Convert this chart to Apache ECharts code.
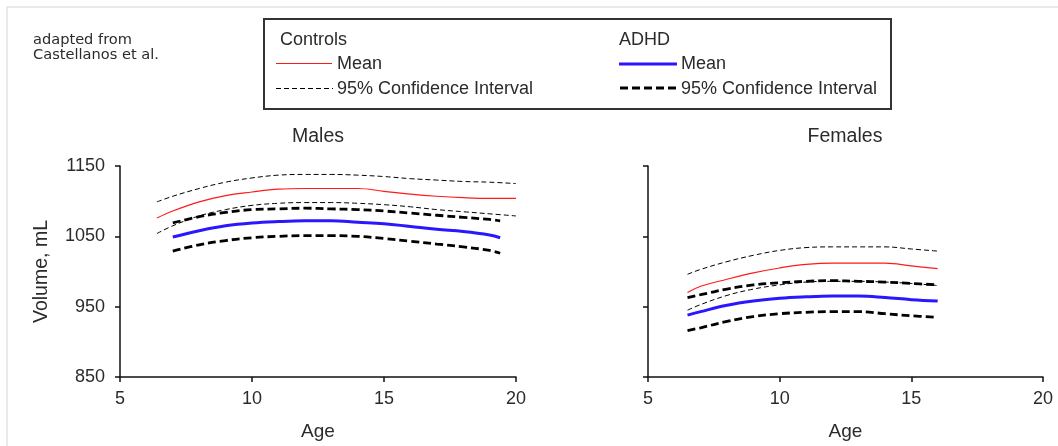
<!DOCTYPE html>
<html>
<head>
<meta charset="utf-8">
<script src="https://cdn.jsdelivr.net/npm/echarts@6/dist/echarts.min.js"></script>
<style>
  html, body { margin: 0; background: #fff; }
  #chart { width: 1058px; height: 446px; }
</style>
</head>
<body>
<div id="chart"></div>
<script>
/* Brain volume by age, Controls vs ADHD (adapted from Castellanos et al.) */

// Males
const maleCtrlAges  = [6.4, 7, 8, 9, 10, 11, 12, 13, 14, 15, 16, 17, 18, 19, 20];
const maleCtrlMean  = [1076, 1086, 1099, 1108, 1113, 1117, 1118, 1118, 1118, 1114, 1110, 1107, 1105, 1104, 1104];
const maleCtrlUpper = [1099, 1107, 1118, 1127, 1133, 1137, 1138, 1138, 1137, 1135, 1132, 1130, 1128, 1127, 1125];
const maleCtrlLower = [1054, 1065, 1079, 1088, 1094, 1097, 1098, 1098, 1097, 1095, 1092, 1088, 1085, 1082, 1079];

const maleAdhdAges  = [7, 8, 9, 10, 11, 12, 13, 14, 15, 16, 17, 18, 19, 19.4];
const maleAdhdMean  = [1049, 1058, 1065, 1069, 1071, 1072, 1072, 1070, 1068, 1064, 1060, 1057, 1052, 1048];
const maleAdhdUpper = [1069, 1078, 1084, 1088, 1089, 1090, 1089, 1088, 1086, 1083, 1080, 1077, 1074, 1072];
const maleAdhdLower = [1029, 1038, 1044, 1048, 1050, 1051, 1051, 1050, 1047, 1043, 1039, 1035, 1030, 1026];

// Females
const femAges      = [6.5, 7, 8, 9, 10, 11, 12, 13, 14, 15, 16];
const femCtrlMean  = [970, 979, 989, 998, 1005, 1010, 1012, 1012, 1012, 1008, 1004];
const femCtrlUpper = [996, 1003, 1014, 1023, 1030, 1034, 1035, 1035, 1035, 1032, 1029];
const femCtrlLower = [945, 953, 966, 975, 981, 985, 986, 986, 985, 983, 980];
const femAdhdMean  = [938, 943, 952, 958, 962, 964, 965, 965, 963, 960, 958];
const femAdhdUpper = [963, 967, 975, 981, 984, 986, 987, 986, 985, 983, 981];
const femAdhdLower = [916, 920, 929, 936, 940, 942, 943, 943, 940, 937, 935];

const xTicks = [5, 10, 15, 20];
const yTicks = [850, 950, 1050, 1150];
const panelTitles = ['Males', 'Females'];

const FONT = '"Liberation Sans", Arial, sans-serif';
const INK = '#2b2b2b';

const ST = {
  ctrlMean: { color: '#ff1a1a', width: 1.2 },
  ctrlCI:   { color: '#000', width: 1, type: [5, 3] },
  adhdMean: { color: '#2a16ff', width: 3 },
  adhdCI:   { color: '#000', width: 2.8, type: [8, 4] },
};

const pairs = (ages, vals) => ages.map((a, i) => [a, vals[i]]);
function line(gi, ages, vals, style) {
  return { type: 'line', xAxisIndex: gi, yAxisIndex: gi, data: pairs(ages, vals),
    showSymbol: false, smooth: 0.4, silent: true, lineStyle: style };
}

const grids = [
  { left: 120, top: 166, width: 396, height: 211 },
  { left: 648, top: 166, width: 395, height: 211 },
];

const axisLine = { onZero: false, lineStyle: { color: '#111', width: 1.5 } };
const axisTick = { length: 5, lineStyle: { color: '#111', width: 1.5 } };

function xAxis(gi) {
  return { type: 'value', gridIndex: gi, min: xTicks[0], max: xTicks[xTicks.length - 1], interval: 5,
    axisLine, axisTick, splitLine: { show: false },
    axisLabel: { fontSize: 18, color: INK, margin: 13, fontFamily: FONT },
    name: 'Age', nameLocation: 'middle', nameGap: 45,
    nameTextStyle: { fontSize: 19, color: INK, fontFamily: FONT } };
}
function yAxis(gi) {
  return { type: 'value', gridIndex: gi, min: yTicks[0], max: yTicks[yTicks.length - 1], interval: 100,
    axisLine: Object.assign({ show: true }, axisLine), axisTick: Object.assign({ show: true }, axisTick),
    splitLine: { show: false },
    axisLabel: { show: gi === 0, fontSize: 18, color: INK, margin: 15, fontFamily: FONT, formatter: v => String(v) },
    name: gi === 0 ? 'Volume, mL' : '', nameLocation: 'middle', nameGap: 68, nameRotate: 90,
    nameTextStyle: { fontSize: 19.5, color: INK, fontFamily: FONT } };
}

function txt(x, y, s, size, align, family) {
  return { type: 'text', x, y, silent: true,
    style: { text: s, font: size + 'px ' + (family || FONT), fill: INK,
      align: align || 'left', verticalAlign: 'middle', textAlign: align || 'left', textVerticalAlign: 'middle' } };
}
function seg(x1, x2, y, st) {
  return { type: 'line', silent: true, shape: { x1, y1: y, x2, y2: y },
    style: { stroke: st.color, lineWidth: st.width, lineDash: st.type || null } };
}

const graphic = [
  { type: 'rect', silent: true, shape: { x: 7, y: 7, width: 1100, height: 500 }, style: { fill: 'none', stroke: '#e2e2e2', lineWidth: 1.5 } },
  txt(33, 40, 'adapted from', 14.6, 'left', '"DejaVu Sans", sans-serif'),
  txt(33, 55, 'Castellanos et al.', 14.6, 'left', '"DejaVu Sans", sans-serif'),
  { type: 'rect', silent: true, shape: { x: 264, y: 19, width: 627, height: 90 }, style: { fill: '#fff', stroke: '#333', lineWidth: 2 } },
  txt(280, 40, 'Controls', 18),
  seg(276, 332, 63.5, ST.ctrlMean), txt(337, 64, 'Mean', 18),
  seg(276, 333, 88.5, ST.ctrlCI), txt(337, 89, '95% Confidence Interval', 18),
  txt(619, 40, 'ADHD', 18),
  seg(619, 677, 64, ST.adhdMean), txt(681, 64, 'Mean', 18),
  seg(620, 678, 88, ST.adhdCI), txt(681, 89, '95% Confidence Interval', 18),
  txt(318, 137, panelTitles[0], 19.5, 'center'),
  txt(845, 137, panelTitles[1], 19.5, 'center'),
];

const chart = echarts.init(document.getElementById('chart'));
chart.setOption({
  animation: false,
  backgroundColor: '#fff',
  grid: grids,
  xAxis: [xAxis(0), xAxis(1)],
  yAxis: [yAxis(0), yAxis(1)],
  graphic,
  series: [
    line(0, maleCtrlAges, maleCtrlUpper, ST.ctrlCI),
    line(0, maleCtrlAges, maleCtrlLower, ST.ctrlCI),
    line(0, maleCtrlAges, maleCtrlMean, ST.ctrlMean),
    line(0, maleAdhdAges, maleAdhdUpper, ST.adhdCI),
    line(0, maleAdhdAges, maleAdhdLower, ST.adhdCI),
    line(0, maleAdhdAges, maleAdhdMean, ST.adhdMean),
    line(1, femAges, femCtrlUpper, ST.ctrlCI),
    line(1, femAges, femCtrlLower, ST.ctrlCI),
    line(1, femAges, femCtrlMean, ST.ctrlMean),
    line(1, femAges, femAdhdUpper, ST.adhdCI),
    line(1, femAges, femAdhdLower, ST.adhdCI),
    line(1, femAges, femAdhdMean, ST.adhdMean),
  ],
});
</script>
</body>
</html>
